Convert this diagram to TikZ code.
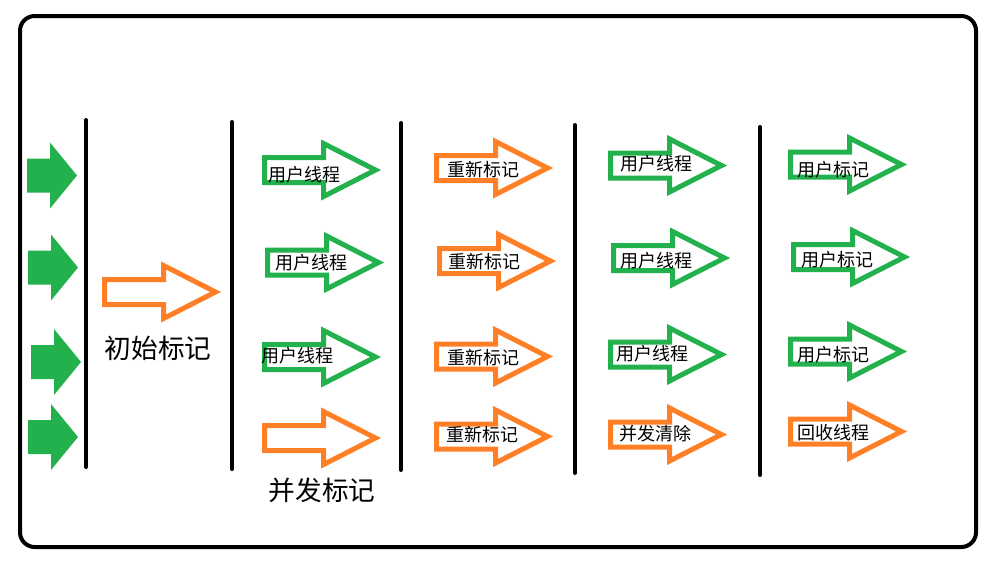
\documentclass[tikz,border=0pt]{standalone}
\usepackage{fontspec}
\newfontfamily\cjk{Noto Sans CJK SC}
\definecolor{paintgreen}{RGB}{34,177,76}
\definecolor{paintorange}{RGB}{255,127,39}
\tikzset{
  hollowarrow/.pic={\draw[pic actions] (0,-12.5)--(59,-12.5)--(59,-26.5)--(111,0)--
    (59,26.5)--(59,12.5)--(0,12.5)--cycle;},
  solidarrow/.pic={\fill[pic actions] (0,-17)--(23,-17)--(23,-33)--(50,0)--
    (23,33)--(23,17)--(0,17)--cycle;},
  gout/.style={draw=paintgreen,line width=3.75pt},
  oout/.style={draw=paintorange,line width=3.75pt},
  small/.style={inner sep=0pt,font=\cjk\fontsize{13.5}{16}\selectfont},
  big/.style={inner sep=0pt,font=\cjk\fontsize{20}{24}\selectfont},
  phase/.style={line width=3pt,line cap=round}
}
\begin{document}
\begin{tikzpicture}[x=0.75pt,y=-0.75pt]
  \useasboundingbox (0,0) rectangle (1003,561);
  \draw[line width=3pt,rounded corners=11pt] (20,16) rectangle (976,547);
  \draw[phase] (86,120)--(86,467) (232,122)--(232,469) (401,123)--(401,470)
    (575,125)--(575,473) (760,127)--(760,475);
  \pic[fill=paintgreen] at (27,175.5) {solidarrow};
  \pic[fill=paintgreen] at (28,267.5) {solidarrow};
  \pic[fill=paintgreen] at (31,362) {solidarrow};
  \pic[fill=paintgreen] at (28,437) {solidarrow};
  \pic[oout] at (104.5,292) {hollowarrow};
  \node[big] (init) at (158,348) {初始标记};
  \pic[gout] at (264.5,170) {hollowarrow};
  \pic[gout] at (267.5,262.5) {hollowarrow};
  \pic[gout] at (264.5,357) {hollowarrow};
  \pic[oout] at (264.5,438) {hollowarrow};
  \node[small] (u1) at (304,175) {用户线程};
  \node[small] (u2) at (311,263) {用户线程};
  \node[small] (u3) at (297,356) {用户线程};
  \node[big] (conc) at (322,490) {并发标记};
  \pic[oout] at (436.5,168) {hollowarrow};
  \pic[oout] at (439.5,261) {hollowarrow};
  \pic[oout] at (436.5,356.5) {hollowarrow};
  \pic[oout] at (436.5,436.5) {hollowarrow};
  \node[small] (r1) at (483,170) {重新标记};
  \node[small] (r2) at (484,262) {重新标记};
  \node[small] (r3) at (483,358) {重新标记};
  \node[small] (r4) at (482,435) {重新标记};
  \pic[gout] at (610.5,165.5) {hollowarrow};
  \pic[gout] at (613.5,258) {hollowarrow};
  \pic[gout] at (610.5,354.5) {hollowarrow};
  \pic[oout] at (610.5,434.5) {hollowarrow};
  \node[small] (v1) at (656,164) {用户线程};
  \node[small] (v2) at (656,261) {用户线程};
  \node[small] (v3) at (652,354) {用户线程};
  \node[small] (sweep) at (655,434) {并发清除};
  \pic[gout] at (790.5,164.5) {hollowarrow};
  \pic[gout] at (793.5,257) {hollowarrow};
  \pic[gout] at (790.5,351.5) {hollowarrow};
  \pic[oout] at (790.5,431.5) {hollowarrow};
  \node[small] (m1) at (833,170) {用户标记};
  \node[small] (m2) at (837,260) {用户标记};
  \node[small] (m3) at (833,355) {用户标记};
  \node[small] (gc) at (833,433) {回收线程};
\end{tikzpicture}
\end{document}
